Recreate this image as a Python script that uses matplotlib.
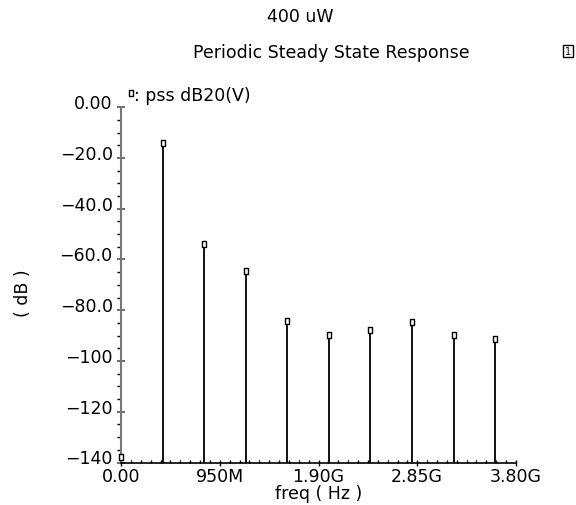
import matplotlib
matplotlib.use("Agg")
import matplotlib.pyplot as plt
from matplotlib.ticker import FixedLocator, MultipleLocator
from matplotlib.path import Path
import matplotlib.transforms as mtrans

# ---- data ----
freq_hz = [0, 400e6, 800e6, 1200e6, 1600e6, 2000e6, 2400e6, 2800e6, 3200e6, 3600e6]
mag_db = [-137.8, -14.1, -53.9, -64.4, -84.2, -89.7, -87.6, -84.7, -89.7, -91.5]
x_ticks = [0, 950e6, 1.90e9, 2.85e9, 3.80e9]
x_tick_labels = ["0.00", "950M", "1.90G", "2.85G", "3.80G"]
y_ticks = [0, -20, -40, -60, -80, -100, -120, -140]
y_tick_labels = ["0.00", "\u221220.0", "\u221240.0", "\u221260.0", "\u221280.0",
                 "\u2212100", "\u2212120", "\u2212140"]

plt.rcParams['font.family'] = ['DejaVu Sans']
FS = 12.5

fig = plt.figure(figsize=(5.76, 5.06), dpi=100)
ax = fig.add_axes([121/576, 1 - 463.5/506, (516 - 121)/576, (463.5 - 108.2)/506])

ax.vlines(freq_hz, -140, mag_db, colors='black', linewidth=1.3)
rect = Path([(-0.5, -1), (0.5, -1), (0.5, 1), (-0.5, 1), (-0.5, -1)],
            [Path.MOVETO, Path.LINETO, Path.LINETO, Path.LINETO, Path.CLOSEPOLY])
ax.plot(freq_hz, mag_db, linestyle='none', marker=rect, markersize=5,
        markerfacecolor='white', markeredgecolor='black', markeredgewidth=1.0,
        clip_on=False, zorder=5)

ax.set_xlim(0, 3.8e9)
ax.set_ylim(-140, 0)
ax.xaxis.set_major_locator(FixedLocator(x_ticks))
ax.set_xticklabels(x_tick_labels, fontsize=FS)
ax.xaxis.set_minor_locator(MultipleLocator(95e6))
ax.yaxis.set_major_locator(FixedLocator(y_ticks))
ax.set_yticklabels(y_tick_labels, fontsize=FS)
ax.yaxis.set_minor_locator(MultipleLocator(5))

for s in ['top', 'right']:
    ax.spines[s].set_visible(False)
ax.spines['left'].set_color('#777777')
ax.spines['left'].set_linewidth(1.5)
ax.spines['bottom'].set_color('black')
ax.spines['bottom'].set_linewidth(1.2)

ax.tick_params(axis='y', which='major', direction='inout', length=6, width=1.2,
               pad=3, color='#555555')
ax.tick_params(axis='y', which='minor', direction='out', length=3, width=1.0)
ax.tick_params(axis='x', which='major', direction='inout', length=5, width=1.0, pad=1)
ax.tick_params(axis='x', which='minor', direction='in', length=2.5, width=1.0)
for t in ax.yaxis.get_major_ticks():
    t.label1.set_va('center')
    t.label1.set_transform(t.label1.get_transform() +
                           mtrans.ScaledTranslation(0, 4/100, fig.dpi_scale_trans))

ax.set_xlabel("freq ( Hz )", fontsize=FS, labelpad=-1)
ax.set_ylabel("( dB )", fontsize=FS)
ax.yaxis.set_label_coords(-0.225, 0.48)

fig.text(300/576, 1 - 17/506, "400 uW", ha='center', va='center', fontsize=FS)
fig.text(331/576, 1 - 53/506, "Periodic Steady State Response", ha='center',
         va='center', fontsize=FS)
fig.text(134/576, 1 - 96/506, ": pss dB20(V)", ha='left', va='center', fontsize=FS)
fig.add_artist(plt.Line2D([131/576], [1 - 94/506], marker=rect, markersize=5,
                          markerfacecolor='white', markeredgecolor='black',
                          markeredgewidth=1.0, linestyle='none',
                          transform=fig.transFigure))
fig.text(568/576, 1 - 52/506, "1", ha='center', va='center', fontsize=7,
         bbox=dict(boxstyle='square,pad=0.15', fc='white', ec='black', lw=1))

fig.savefig("out.png", dpi=100)
